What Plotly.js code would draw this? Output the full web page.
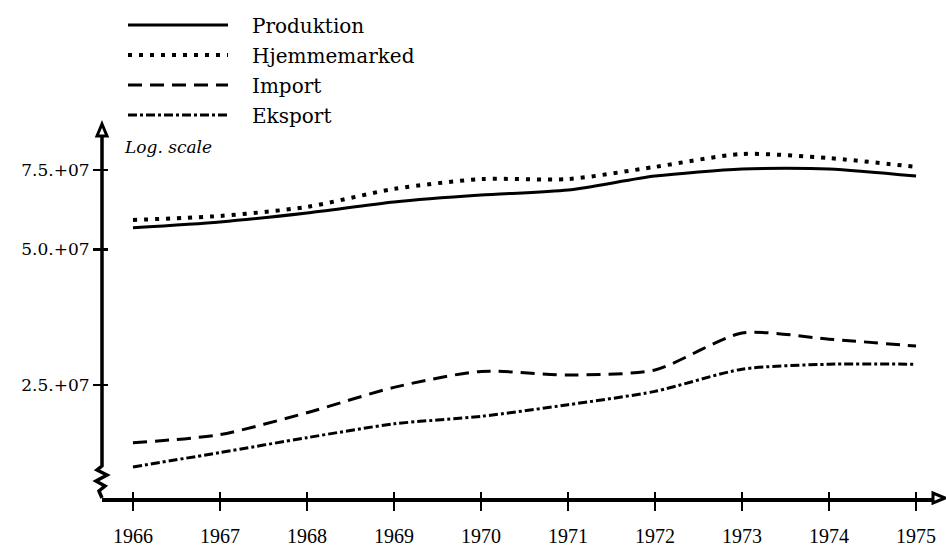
<!DOCTYPE html>
<html>
<head>
<meta charset="utf-8">
<script src="https://cdn.plot.ly/plotly-3.0.1.min.js"></script>
<style>
  html, body { margin: 0; padding: 0; background: #fff; }
  #chart { width: 946px; height: 546px; }
</style>
</head>
<body>
<div id="chart"></div>
<script>
// ---- data ----
const years = [1966, 1967, 1968, 1969, 1970, 1971, 1972, 1973, 1974, 1975];
const produktion   = [5.58e7, 5.75e7, 6.02e7, 6.37e7, 6.60e7, 6.77e7, 7.27e7, 7.54e7, 7.54e7, 7.27e7];
const hjemmemarked = [5.81e7, 5.93e7, 6.21e7, 6.81e7, 7.16e7, 7.16e7, 7.62e7, 8.14e7, 7.97e7, 7.62e7];
const importVals   = [1.86e7, 1.94e7, 2.17e7, 2.47e7, 2.68e7, 2.63e7, 2.70e7, 3.26e7, 3.16e7, 3.05e7];
const eksport      = [1.645e7, 1.77e7, 1.91e7, 2.05e7, 2.13e7, 2.26e7, 2.42e7, 2.71e7, 2.78e7, 2.78e7];
const seriesNames  = ['Produktion', 'Hjemmemarked', 'Import', 'Eksport'];
const yTickVals    = [2.5e7, 5.0e7, 7.5e7];
const yTickText    = ['2.5.+07', '5.0.+07', '7.5.+07'];
const yAxisNote    = 'Log. scale';

// ---- layout geometry ----
const W = 946, H = 546;
const M = { l: 102, r: 11, t: 124, b: 48 };
const PW = W - M.l - M.r, PH = H - M.t - M.b;
const px = x => (x - M.l) / PW;          // page px -> paper x
const py = y => (H - M.b - y) / PH;      // page px -> paper y

const xRange = [1965.644, 1975.218];
const yRange = [7.14714, 7.97715];

const styles = [
  { width: 3, dash: 'solid' },
  { width: 4, dash: '4px,7px' },
  { width: 3, dash: '14px,8px' },
  { width: 3, dash: '9px,3px,3px,3px' }
];
const seriesData = [produktion, hjemmemarked, importVals, eksport];

const traces = seriesData.map((vals, i) => ({
  type: 'scatter', mode: 'lines', name: seriesNames[i],
  x: years, y: vals, showlegend: false,
  line: { color: '#000', width: styles[i].width, dash: styles[i].dash, shape: 'spline', smoothing: 0.7 },
  hoverinfo: 'x+y+name'
}));
// empty trace that only carries the overlay axes (inner half of the crossing ticks)
traces.push({ type: 'scatter', mode: 'lines', x: [], y: [], xaxis: 'x2', yaxis: 'y2', showlegend: false, hoverinfo: 'skip' });

const shapes = [];
const annotations = [];

// custom legend
const legendRows = [25, 55, 85, 115];
seriesNames.forEach((n, i) => {
  shapes.push({
    type: 'line', xref: 'paper', yref: 'paper',
    x0: px(128), x1: px(228), y0: py(legendRows[i]), y1: py(legendRows[i]),
    line: { color: '#000', width: styles[i].width, dash: styles[i].dash }
  });
  annotations.push({
    xref: 'paper', yref: 'paper', x: px(250), y: py(legendRows[i] + 1),
    xanchor: 'left', yanchor: 'middle', showarrow: false, text: n,
    font: { family: 'DejaVu Serif', size: 20, color: '#000' }
  });
});

// y-axis line with break squiggle
const sq = [[102,136],[102,466],[97,470],[107,475],[96,481],[105,486],[99,491],[102,498]];
shapes.push({
  type: 'path', xref: 'paper', yref: 'paper',
  path: sq.map((p, i) => (i ? 'L' : 'M') + px(p[0]) + ',' + py(p[1])).join(' '),
  line: { color: '#000', width: 3.5 }
});
// y-axis arrowhead (hollow)
shapes.push({
  type: 'path', xref: 'paper', yref: 'paper',
  path: `M${px(102)},${py(124)} L${px(107)},${py(136)} L${px(97)},${py(136)} Z`,
  line: { color: '#000', width: 3 }, fillcolor: '#fff'
});
// x-axis arrowhead (hollow)
shapes.push({
  type: 'path', xref: 'paper', yref: 'paper',
  path: `M${px(945)},${py(498)} L${px(933)},${py(503)} L${px(933)},${py(493)} Z`,
  line: { color: '#000', width: 3 }, fillcolor: '#fff'
});

annotations.push({
  xref: 'paper', yref: 'paper', x: px(122), y: py(147),
  xanchor: 'left', yanchor: 'middle', showarrow: false, text: yAxisNote,
  font: { family: 'DejaVu Serif', size: 17, color: '#000', style: 'italic' }
});

const layout = {
  width: W, height: H,
  margin: M,
  paper_bgcolor: '#fff', plot_bgcolor: '#fff',
  showlegend: false,
  xaxis: {
    range: xRange, tickvals: years, ticktext: years.map(String),
    showgrid: false, zeroline: false,
    showline: true, linecolor: '#000', linewidth: 3.5,
    ticks: 'outside', ticklen: 9, tickwidth: 2.5, tickcolor: '#000',
    ticklabelstandoff: 8,
    tickfont: { family: 'Liberation Serif', size: 20, color: '#000' }
  },
  xaxis2: {
    overlaying: 'x', anchor: 'y2', side: 'bottom', range: xRange, tickvals: years,
    showgrid: false, zeroline: false, showline: false, showticklabels: false,
    ticks: 'inside', ticklen: 6, tickwidth: 2.5, tickcolor: '#000'
  },
  yaxis: {
    type: 'log', range: yRange, tickvals: yTickVals, ticktext: yTickText,
    showgrid: false, zeroline: false, showline: false,
    ticks: 'outside', ticklen: 8, tickwidth: 2.5, tickcolor: '#000',
    tickfont: { family: 'DejaVu Serif', size: 17, color: '#000' }
  },
  yaxis2: {
    overlaying: 'y', anchor: 'x2', side: 'left', type: 'log', range: yRange, tickvals: yTickVals,
    showgrid: false, zeroline: false, showline: false, showticklabels: false,
    ticks: 'inside', ticklen: 6, tickwidth: 2.5, tickcolor: '#000'
  },
  shapes: shapes,
  annotations: annotations
};

Plotly.newPlot('chart', traces, layout, { displayModeBar: false, staticPlot: true });
</script>
</body>
</html>
